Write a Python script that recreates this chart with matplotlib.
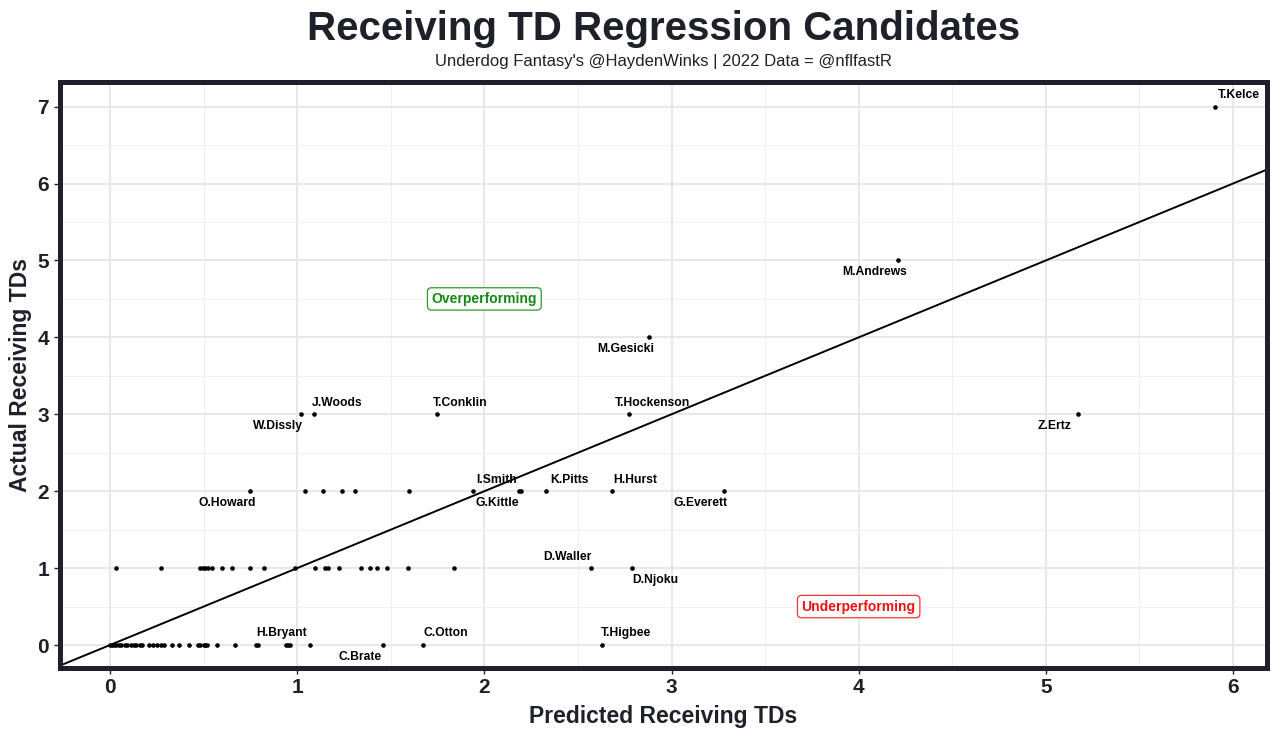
import matplotlib.pyplot as plt
from matplotlib.ticker import MultipleLocator

plt.rcParams['font.family'] = ['Liberation Sans', 'DejaVu Sans']

DARK = '#1e2129'

# predicted vs actual receiving TDs (2022), one entry per player
pred_tds = [
    # 0 TD row
    0.00, 0.01, 0.02, 0.03, 0.05, 0.06, 0.08, 0.09, 0.11, 0.13, 0.14, 0.16,
    0.17, 0.21, 0.23, 0.25, 0.27, 0.29, 0.33, 0.37, 0.42, 0.47, 0.48, 0.50,
    0.51, 0.52, 0.57, 0.67, 0.78, 0.79, 0.94, 0.95, 0.96, 1.07, 1.46, 1.67,
    2.63,
    # 1 TD row
    0.03, 0.27, 0.48, 0.495, 0.51, 0.525, 0.545, 0.60, 0.65, 0.75, 0.82,
    0.99, 1.095, 1.15, 1.165, 1.225, 1.34, 1.39, 1.425, 1.48, 1.59, 1.84,
    2.57, 2.79,
    # 2 TD row
    0.75, 1.04, 1.14, 1.24, 1.31, 1.60, 1.94, 2.185, 2.195, 2.33, 2.68, 3.28,
    # 3+ TDs
    1.02, 1.09, 1.745, 2.775, 5.17, 2.88, 4.21, 5.905,
]
actual_tds = [0] * 37 + [1] * 24 + [2] * 12 + [3, 3, 3, 3, 3, 4, 5, 7]

# labeled players: index -> (name, x side, y side)
labels = {
    29: ('H.Bryant', 1, 1), 34: ('C.Brate', -1, -1), 35: ('C.Otton', 1, 1),
    36: ('T.Higbee', 1, 1),
    59: ('D.Waller', -1, 1), 60: ('D.Njoku', 1, -1),
    61: ('O.Howard', -1, -1), 67: ('I.Smith', 1, 1), 69: ('G.Kittle', -1, -1),
    70: ('K.Pitts', 1, 1), 71: ('H.Hurst', 1, 1), 72: ('G.Everett', -1, -1),
    73: ('W.Dissly', -1, -1), 74: ('J.Woods', 1, 1), 75: ('T.Conklin', 1, 1),
    76: ('T.Hockenson', 1, 1), 77: ('Z.Ertz', -1, -1), 78: ('M.Gesicki', -1, -1),
    79: ('M.Andrews', -1, -1), 80: ('T.Kelce', 1, 1),
}

fig = plt.figure(figsize=(12.8, 7.36), dpi=100)
ax = fig.add_axes([0.0465, 0.093, 0.9435, 0.795])

ax.set_xlim(-0.27, 6.183)
ax.set_ylim(-0.293, 7.315)
ax.xaxis.set_major_locator(MultipleLocator(1))
ax.yaxis.set_major_locator(MultipleLocator(1))
ax.xaxis.set_minor_locator(MultipleLocator(0.5))
ax.yaxis.set_minor_locator(MultipleLocator(0.5))
ax.grid(which='major', color='#e8e8e8', linewidth=1.4, zorder=0)
ax.grid(which='minor', color='#f0f0f0', linewidth=0.8, zorder=0)
ax.set_axisbelow(True)

# y = x reference line
ax.axline((0, 0), slope=1, color='black', linewidth=1.4, zorder=2)

ax.scatter(pred_tds, actual_tds, s=11, color='black', zorder=3, linewidths=0)

for i, (name, sx, sy) in labels.items():
    ax.text(pred_tds[i] + 0.125 * sx, actual_tds[i] + 0.15 * sy, name,
            ha='center', va='center', fontsize=8.7, fontweight='bold',
            color='black', zorder=4)

ax.text(2.0, 4.5, 'Overperforming', ha='center', va='center', fontsize=10,
        fontweight='bold', color='#118811',
        bbox=dict(boxstyle='round,pad=0.3', fc='white', ec='#2e9a2e', lw=0.9))
ax.text(4.0, 0.5, 'Underperforming', ha='center', va='center', fontsize=10,
        fontweight='bold', color='#ee1111',
        bbox=dict(boxstyle='round,pad=0.3', fc='white', ec='#ee3333', lw=0.9))

for sp in ax.spines.values():
    sp.set_linewidth(3.6)
    sp.set_color(DARK)

ax.tick_params(which='major', length=4, width=1, color=DARK, labelcolor=DARK,
               labelsize=15)
ax.tick_params(which='minor', length=0)
for lab in ax.get_xticklabels() + ax.get_yticklabels():
    lab.set_fontweight('bold')

ax.set_xlabel('Predicted Receiving TDs', fontsize=16.5, fontweight='bold',
              color=DARK, labelpad=6)
ax.set_ylabel('Actual Receiving TDs', fontsize=16.5, fontweight='bold',
              color=DARK, labelpad=4)

cx = 0.0465 + 0.9435 / 2
fig.text(cx, 0.961, 'Receiving TD Regression Candidates', ha='center',
         va='center', fontsize=29, fontweight='bold', color=DARK)
fig.text(cx, 0.916, "Underdog Fantasy's @HaydenWinks | 2022 Data = @nflfastR",
         ha='center', va='center', fontsize=12, color=DARK)

fig.savefig('out.png', dpi=100)
